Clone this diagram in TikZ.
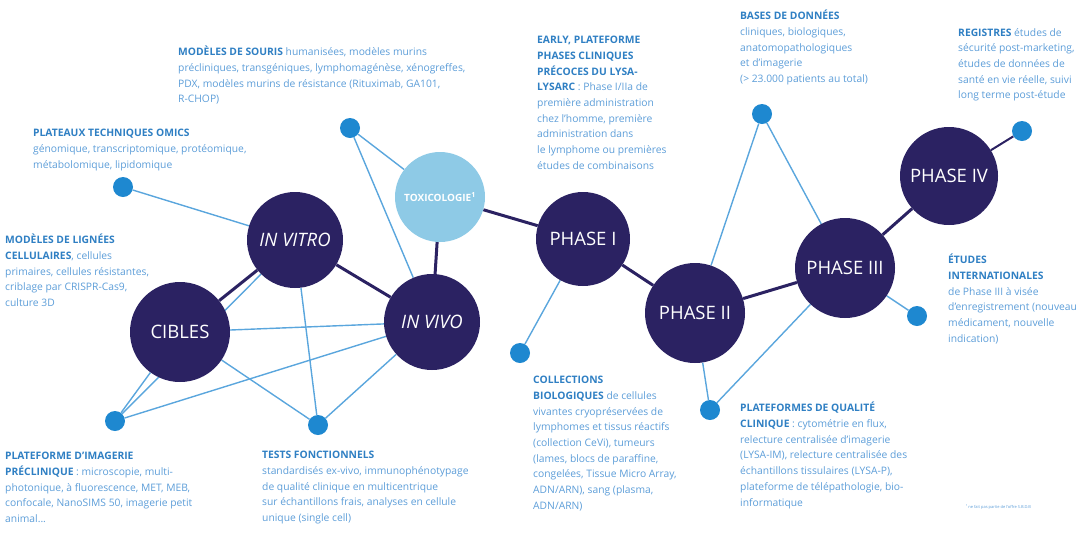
\documentclass[tikz,border=0pt]{standalone}
\usepackage{fontspec}
\setmainfont{Open Sans}
\usetikzlibrary{positioning, backgrounds}
\definecolor{navy}{HTML}{2B2262}
\definecolor{toxi}{HTML}{8ECAE6}
\definecolor{dotc}{HTML}{1E88D0}
\definecolor{lnk}{HTML}{5AA6DD}
\definecolor{hd}{HTML}{2F7FC3}
\definecolor{txt}{HTML}{5C9DD8}

\begin{document}
\begin{tikzpicture}[
      x=1pt, y=-1pt,
      big/.style={circle, fill=navy, minimum size=96pt, inner sep=0pt,
                  text=white, font=\fontsize{18.5}{18.5}\selectfont},
      tox/.style={big, fill=toxi, minimum size=90pt,
                  font=\fontsize{10}{10}\selectfont\bfseries},
      pt/.style={circle, fill=dotc, minimum size=20pt, inner sep=0pt},
      main/.style={navy, line width=3pt},
      sub/.style={lnk, line width=1.4pt},
      blurb/.style={anchor=north west, align=left, inner sep=0pt, text=txt,
                    font=\fontsize{10.3}{15.7}\selectfont},
    ]
    \useasboundingbox (0,0) rectangle (1083,547);

    % big circles: preclinical then clinical
    \node[big, minimum size=100pt] (cib) at (180,332) {CIBLES};
    \node[big] (vitro) at (295,240) {\itshape IN VITRO};
    \node[big] (vivo) at (432,322) {\itshape IN VIVO};
    \node[tox] (tox) at (440,197) {TOXICOLOGIE\textsuperscript{1}};
    \foreach \n/\x/\y/\s/\t in {ph1/583/239/94/PHASE I, ph2/695/313/100/PHASE II,
                                ph3/845/268/100/PHASE III, ph4/949/176/98/PHASE IV}
      \node[big, minimum size=\s pt] (\n) at (\x,\y) {\t};

    % small dots
    \foreach \n/\x/\y in {sou/350/128, omi/123/187, img/115/421, tst/318/425,
                          col/520/353, bdd/762/114, qua/710/410, reg/1022/131,
                          etu/917/316}
      \node[pt] (\n) at (\x,\y) {};

    % connectors
    \begin{scope}[on background layer]
      \draw[main] (cib)--(vitro); \draw[main] (vitro)--(vivo);
      \draw[main] (vivo)--(tox); \draw[main] (tox)--(ph1);
      \draw[main] (ph1)--(ph2); \draw[main] (ph2)--(ph3);
      \draw[main] (ph3)--(ph4); \draw[main, line width=2pt] (ph4)--(reg);
      \draw[sub] (cib)--(vivo);
      \draw[sub] (sou)--(vivo); \draw[sub] (sou)--(tox);
      \draw[sub] (omi)--(vitro);
      \draw[sub] (img)--(cib); \draw[sub] (img)--(vitro); \draw[sub] (img)--(vivo);
      \draw[sub] (tst)--(cib); \draw[sub] (tst)--(vitro); \draw[sub] (tst)--(vivo);
      \draw[sub] (col)--(ph1);
      \draw[sub] (bdd)--(ph2); \draw[sub] (bdd)--(ph3);
      \draw[sub] (qua)--(ph2); \draw[sub] (qua)--(ph3);
      \draw[sub] (etu)--(ph3);
    \end{scope}

    % texts
    \node[blurb] (tsou) at (178,46) {{\color{hd}\bfseries MODÈLES DE SOURIS} humanisées, modèles murins\\
      précliniques, transgéniques, lymphomagénèse, xénogreffes,\\
      PDX, modèles murins de résistance (Rituximab, GA101,\\
      R-CHOP)};
    \node[blurb] (tomi) at (33,129) {{\color{hd}\bfseries PLATEAUX TECHNIQUES OMICS}\\
      génomique, transcriptomique, protéomique,\\
      métabolomique, lipidomique};
    \node[blurb] (tlig) at (5,234) {{\color{hd}\bfseries MODÈLES DE LIGNÉES}\\
      {\color{hd}\bfseries CELLULAIRES}, cellules\\
      primaires, cellules résistantes,\\
      criblage par CRISPR-Cas9,\\
      culture 3D};
    \node[blurb] (timg) at (5,452) {{\color{hd}\bfseries PLATEFORME D'IMAGERIE}\\
      {\color{hd}\bfseries PRÉCLINIQUE} : microscopie, multi-\\
      photonique, à fluorescence, MET, MEB,\\
      confocale, NanoSIMS 50, imagerie petit\\
      animal...};
    \node[blurb] (ttst) at (262,451) {{\color{hd}\bfseries TESTS FONCTIONNELS}\\
      standardisés ex-vivo, immunophénotypage\\
      de qualité clinique en multicentrique\\
      sur échantillons frais, analyses en cellule\\
      unique (single cell)};
    \node[blurb] (tear) at (537,36) {{\color{hd}\bfseries EARLY, PLATEFORME}\\
      {\color{hd}\bfseries PHASES CLINIQUES}\\
      {\color{hd}\bfseries PRÉCOCES DU LYSA-}\\
      {\color{hd}\bfseries LYSARC} : Phase I/IIa de\\
      première administration\\
      chez l'homme, première\\
      administration dans\\
      le lymphome ou premières\\
      études de combinaisons};
    \node[blurb] (tbdd) at (740,10) {{\color{hd}\bfseries BASES DE DONNÉES}\\
      cliniques, biologiques,\\
      anatomopathologiques\\
      et d'imagerie\\
      (> 23.000 patients au total)};
    \node[blurb] (treg) at (958,28) {{\color{hd}\bfseries REGISTRES} études de\\
      sécurité post-marketing,\\
      études de données de\\
      santé en vie réelle, suivi\\
      long terme post-étude};
    \node[blurb] (tetu) at (948,254) {{\color{hd}\bfseries ÉTUDES}\\
      {\color{hd}\bfseries INTERNATIONALES}\\
      de Phase III à visée\\
      d'enregistrement (nouveau\\
      médicament, nouvelle\\
      indication)};
    \node[blurb] (tcol) at (533,376) {{\color{hd}\bfseries COLLECTIONS}\\
      {\color{hd}\bfseries BIOLOGIQUES} de cellules\\
      vivantes cryopréservées de\\
      lymphomes et tissus réactifs\\
      (collection CeVi), tumeurs\\
      (lames, blocs de paraffine,\\
      congelées, Tissue Micro Array,\\
      ADN/ARN), sang (plasma,\\
      ADN/ARN)};
    \node[blurb] (tqua) at (740,402) {{\color{hd}\bfseries PLATEFORMES DE QUALITÉ}\\
      {\color{hd}\bfseries CLINIQUE} : cytométrie en flux,\\
      relecture centralisée d'imagerie\\
      (LYSA-IM), relecture centralisée des\\
      échantillons tissulaires (LYSA-P),\\
      plateforme de télépathologie, bio-\\
      informatique};
    \node[blurb, font=\fontsize{4}{5}\selectfont] (note) at (966,504)
      {\textsuperscript{1}ne fait pas partie de l'offre S.B.D.B};
    \end{tikzpicture}
\end{document}
